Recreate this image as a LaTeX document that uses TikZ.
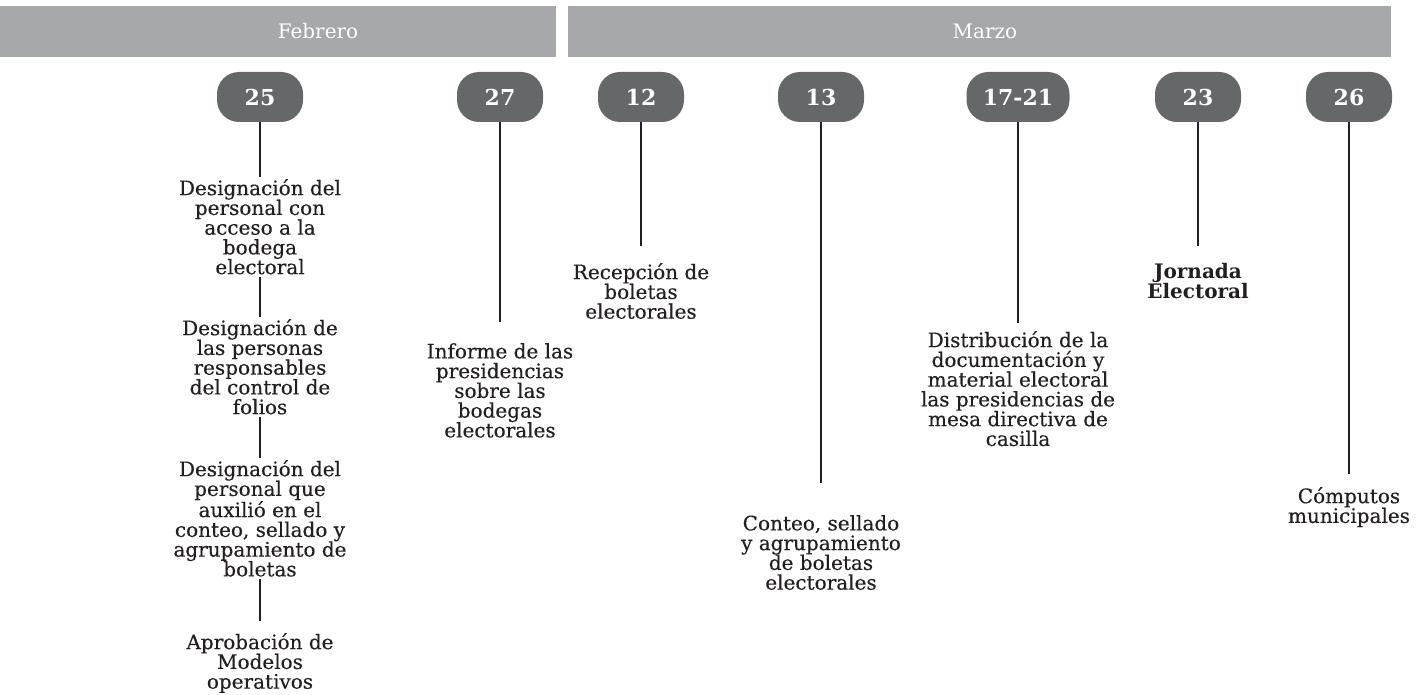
\documentclass[tikz,border=0pt]{standalone}
\usepackage{fontspec}
\setmainfont{DejaVu Serif}
\newfontfamily\itemfont{DejaVu Serif}[FakeBold=0.35]
\usepackage{xcolor}
\usepackage{tikz}
\usetikzlibrary{positioning}
\definecolor{bargray}{HTML}{A7A8AB}
\definecolor{pillgray}{HTML}{646868}
\definecolor{inkblack}{HTML}{231F20}
\tikzstyle{month} = [rectangle, fill=bargray, text=white, inner sep=0pt, minimum height=51pt, font=\fontsize{20}{24}\selectfont]
\tikzstyle{pill} = [rectangle, rounded corners=22pt, fill=pillgray, text=white, minimum width=86pt, minimum height=50pt, inner sep=0pt, font=\bfseries\fontsize{22}{24}\selectfont]
\tikzstyle{item} = [anchor=north, align=center, inner sep=2pt, text=inkblack, font=\itemfont\fontsize{20}{19.75}\selectfont]
\tikzstyle{stem} = [draw=inkblack, line width=2.5pt]

\begin{document}
\begin{tikzpicture}[x=1pt,y=-1pt]
\useasboundingbox (0,0) rectangle (1427,695);
% month bars
\node (feb) [month, minimum width=556pt] at (278,31.5) {\hspace*{80pt}Febrero};
\node (mar) [month, minimum width=823pt] at (979.5,31.5) {\hspace*{11pt}Marzo};
% days
\node (d25) [pill] at (260,97) {25};
\node (d27) [pill] at (500,97) {27};
\node (d12) [pill] at (641,97) {12};
\node (d13) [pill] at (821,97) {13};
\node (d1721) [pill, minimum width=103pt] at (1018,97) {17-21};
\node (d23) [pill] at (1198,97) {23};
\node (d26) [pill] at (1349,97) {26};
% activities
\node (a1) [item] at (260,177) {Designación del\\personal con\\acceso a la\\bodega\\electoral};
\node (a2) [item] at (260,317) {Designación de\\las personas\\responsables\\del control de\\folios};
\node (a3) [item] at (260,458) {Designación del\\personal que\\auxilió en el\\conteo, sellado y\\agrupamiento de\\boletas};
\node (a4) [item] at (260,631) {Aprobación de\\Modelos\\operativos};
\node (inf) [item] at (500,341) {Informe de las\\presidencias\\sobre las\\bodegas\\electorales};
\node (rec) [item] at (641,261) {Recepción de\\boletas\\electorales};
\node (con) [item] at (821,513) {Conteo, sellado\\y agrupamiento\\de boletas\\electorales};
\node (dis) [item] at (1018,329) {Distribución de la\\documentación y\\material electoral\\las presidencias de\\mesa directiva de\\casilla};
\node (jor) [item] at (1198,261) {\normalfont\bfseries Jornada\\\normalfont\bfseries Electoral};
\node (com) [item] at (1349,485) {Cómputos\\municipales};
% stems
\draw[stem] (d25) -- (a1);
\draw[stem] (a1) -- (a2);
\draw[stem] (a2) -- (a3);
\draw[stem, shorten >=10pt] (a3) -- (a4);
\draw[stem, shorten >=19pt] (d27) -- (inf);
\draw[stem, shorten >=15pt] (d12) -- (rec);
\draw[stem, shorten >=30pt] (d13) -- (con);
\draw[stem, shorten >=6pt] (d1721) -- (dis);
\draw[stem, shorten >=15pt] (d23) -- (jor);
\draw[stem, shorten >=11pt] (d26) -- (com);
\end{tikzpicture}
\end{document}
